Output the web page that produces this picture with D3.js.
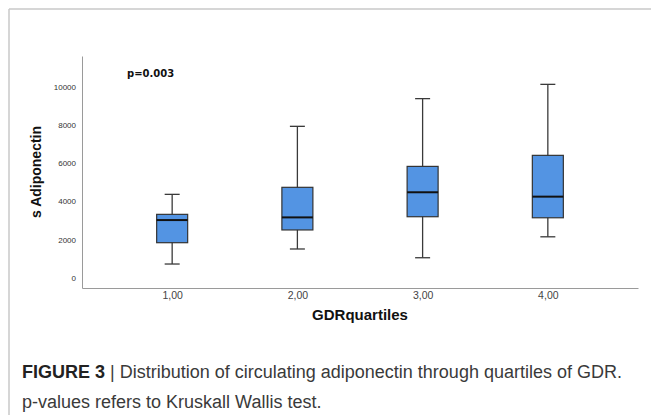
<!DOCTYPE html>
<html>
<head>
<meta charset="utf-8">
<script src="https://cdn.jsdelivr.net/npm/d3@7"></script>
<style>
  body { margin: 0; background: #fff; }
  svg { display: block; }
</style>
</head>
<body>
<svg id="chart" width="651" height="415"></svg>
<script>
// GDR quartile groups and box statistics (s Adiponectin)
const categories = ["1,00", "2,00", "3,00", "4,00"];
const whiskerLow = [710, 1500, 1040, 2140];
const q1 = [1830, 2500, 3195, 3140];
const median = [3020, 3160, 4480, 4250];
const q3 = [3320, 4740, 5840, 6420];
const whiskerHigh = [4370, 7945, 9400, 10150];
const yTicks = [0, 2000, 4000, 6000, 8000, 10000];

const svg = d3.select("#chart");
const margin = { left: 82, right: 13, top: 56, bottom: 127 };
const width = 651 - margin.left - margin.right;
const height = 415 - margin.top - margin.bottom;

// figure frame
svg.append("line").attr("x1", 9).attr("x2", 651).attr("y1", 9).attr("y2", 9)
  .attr("stroke", "#c8c8c8").attr("stroke-width", 1.5);
svg.append("line").attr("x1", 9).attr("x2", 9).attr("y1", 9).attr("y2", 415)
  .attr("stroke", "#c8c8c8").attr("stroke-width", 1.5);

const g = svg.append("g").attr("transform", `translate(${margin.left},${margin.top})`);

const x = d3.scalePoint().domain(categories).range([0, width]).padding(0.72);
const y = d3.scaleLinear().domain([-550, 11640]).range([height, 0]);

// axes
const yAxis = g.append("g")
  .call(d3.axisLeft(y).tickValues(yTicks).tickFormat(d3.format("d")).tickSize(0).tickPadding(6));
yAxis.select(".domain").attr("stroke", "#9a9a9a");
yAxis.selectAll("text").attr("font-family", "Liberation Sans, Arial, sans-serif")
  .attr("font-size", 8).attr("fill", "#333");

const xAxis = g.append("g").attr("transform", `translate(0,${height})`)
  .call(d3.axisBottom(x).tickSize(0).tickPadding(4));
xAxis.select(".domain").attr("stroke", "#9a9a9a");
xAxis.selectAll("text").attr("font-family", "Liberation Sans, Arial, sans-serif")
  .attr("font-size", 10.5).attr("fill", "#444");

// boxes
const boxW = 31;
const capW = 15;
const idx = d3.range(categories.length);

g.selectAll(".whisker").data(idx).enter().append("line")
  .attr("x1", i => x(categories[i])).attr("x2", i => x(categories[i]))
  .attr("y1", i => y(whiskerLow[i])).attr("y2", i => y(whiskerHigh[i]))
  .attr("stroke", "#3a3a3a").attr("stroke-width", 1.3);

g.selectAll(".capLow").data(idx).enter().append("line")
  .attr("x1", i => x(categories[i]) - capW / 2).attr("x2", i => x(categories[i]) + capW / 2)
  .attr("y1", i => y(whiskerLow[i])).attr("y2", i => y(whiskerLow[i]))
  .attr("stroke", "#3a3a3a").attr("stroke-width", 1.3);

g.selectAll(".capHigh").data(idx).enter().append("line")
  .attr("x1", i => x(categories[i]) - capW / 2).attr("x2", i => x(categories[i]) + capW / 2)
  .attr("y1", i => y(whiskerHigh[i])).attr("y2", i => y(whiskerHigh[i]))
  .attr("stroke", "#3a3a3a").attr("stroke-width", 1.3);

g.selectAll(".box").data(idx).enter().append("rect")
  .attr("x", i => x(categories[i]) - boxW / 2)
  .attr("y", i => y(q3[i]))
  .attr("width", boxW)
  .attr("height", i => y(q1[i]) - y(q3[i]))
  .attr("fill", "#5394e3").attr("stroke", "#333").attr("stroke-width", 1.2);

g.selectAll(".median").data(idx).enter().append("line")
  .attr("x1", i => x(categories[i]) - boxW / 2).attr("x2", i => x(categories[i]) + boxW / 2)
  .attr("y1", i => y(median[i])).attr("y2", i => y(median[i]))
  .attr("stroke", "#111").attr("stroke-width", 2);

// annotations
g.append("text").attr("x", 45).attr("y", 17)
  .attr("dy", "0.35em")
  .attr("font-family", "DejaVu Sans, sans-serif").attr("font-weight", "bold")
  .attr("font-size", 10).attr("fill", "#111")
  .text("p=0.003");

svg.append("text")
  .attr("transform", "translate(36,172) rotate(-90)")
  .attr("text-anchor", "middle").attr("dy", "0.35em")
  .attr("font-family", "Liberation Sans, Arial, sans-serif").attr("font-weight", "bold")
  .attr("font-size", 14).attr("fill", "#111")
  .text("s Adiponectin");

svg.append("text")
  .attr("x", 360).attr("y", 320)
  .attr("text-anchor", "middle")
  .attr("font-family", "Liberation Sans, Arial, sans-serif").attr("font-weight", "bold")
  .attr("font-size", 15).attr("fill", "#111")
  .text("GDRquartiles");

// caption
const cap1 = svg.append("text").attr("x", 22).attr("y", 378)
  .attr("font-family", "Liberation Sans, Arial, sans-serif").attr("font-size", 18).attr("fill", "#3a3a3a");
cap1.append("tspan").attr("font-weight", "bold").attr("fill", "#222").text("FIGURE 3");
cap1.append("tspan").text(" | Distribution of circulating adiponectin through quartiles of GDR.");

svg.append("text").attr("x", 22).attr("y", 408)
  .attr("font-family", "Liberation Sans, Arial, sans-serif").attr("font-size", 18).attr("fill", "#3a3a3a")
  .text("p-values refers to Kruskall Wallis test.");
</script>
</body>
</html>
